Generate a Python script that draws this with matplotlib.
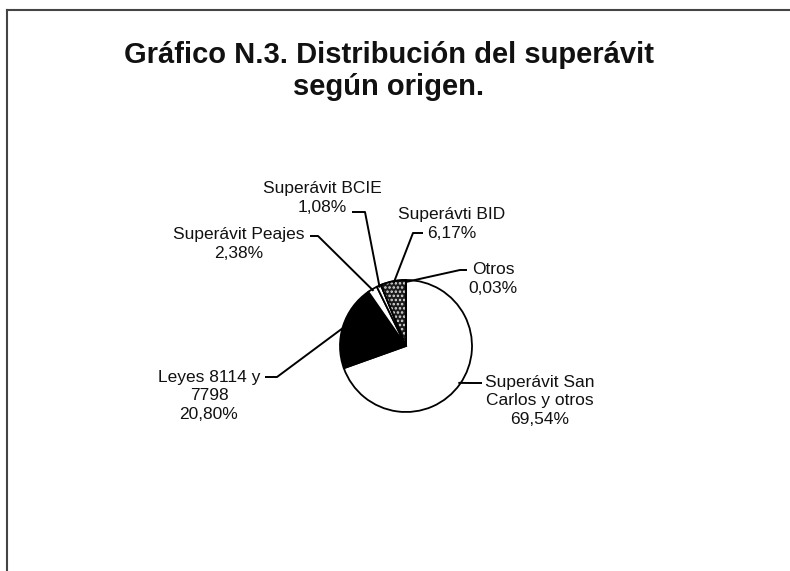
import numpy as np
import matplotlib
matplotlib.use("Agg")
import matplotlib.pyplot as plt
from matplotlib.patches import Wedge
from matplotlib.lines import Line2D

# ---- data ----
categories = ["Superávit San Carlos y otros", "Leyes 8114 y 7798", "Superávit Peajes",
              "Superávit BCIE", "Superávti BID", "Otros"]
values = [69.54, 20.80, 2.38, 1.08, 6.17, 0.03]
label_texts = ["Superávit San\nCarlos y otros\n69,54%",
               "Leyes 8114 y\n7798\n20,80%",
               "Superávit Peajes\n2,38%",
               "Superávit BCIE\n1,08%",
               "Superávti BID\n6,17%",
               "Otros\n0,03%"]
title_lines = ["Gráfico N.3. Distribución del superávit", "según origen."]

W, H = 790, 571
fig = plt.figure(figsize=(W / 100, H / 100), dpi=100)
ax = fig.add_axes([0, 0, 1, 1])

def Y(y):  # pixel-from-top -> data
    return H - y

colors = ["white", "black", "white", "white", "#1a1a1a", "white"]
cx, cy, r = 406, Y(346), 66
wedges, _ = ax.pie(values, colors=colors, startangle=90, counterclock=False,
                   center=(cx, cy), radius=r,
                   wedgeprops=dict(edgecolor="black", linewidth=1.3))

# speckle texture on BID wedge
w = wedges[4]
plt.rcParams['hatch.linewidth'] = 1.2
ov = Wedge((cx, cy), r, w.theta1, w.theta2, facecolor="none", edgecolor="#dddddd",
           hatch="....", linewidth=0)
ax.add_patch(ov)
ax.add_patch(Wedge((cx, cy), r, w.theta1, w.theta2, facecolor="none",
                   edgecolor="black", linewidth=1.3))

# label layout: text center (x, y from top), leader path points (anchor on wedge appended)
layout = [
    ((540, 401), [(482, 383), (471, 383)]),
    ((209, 396), [(265, 377), (277, 377)]),
    ((239, 244), [(310, 236), (318, 236)]),
    ((322, 198), [(352, 212), (365, 212)]),
    ((452, 224), [(423, 233), (413, 233)]),
    ((493, 279), [(467, 270), (460, 270)]),
]

fam = ["Liberation Sans", "DejaVu Sans"]
for wdg, txt, (pos, path) in zip(wedges, label_texts, layout):
    ax.text(pos[0], Y(pos[1]), txt, ha="center", va="center", fontsize=12.5,
            family=fam, linespacing=1.3, color="#111111")
    mid = np.deg2rad((wdg.theta1 + wdg.theta2) / 2)
    ax_pt = (cx + 0.97 * r * np.cos(mid), cy + 0.97 * r * np.sin(mid))
    xs = [p[0] for p in path] + [ax_pt[0]]
    ys = [Y(p[1]) for p in path] + [ax_pt[1]]
    ax.plot(xs, ys, color="black", linewidth=1.4, solid_capstyle="butt")

# title
ax.text(389, Y(63), title_lines[0], ha="center", va="baseline", fontsize=21,
        fontweight="bold", family=fam, color="#111111")
ax.text(389, Y(95), title_lines[1], ha="center", va="baseline", fontsize=21,
        fontweight="bold", family=fam, color="#111111")

ax.set_xlim(0, W)
ax.set_ylim(0, H)
ax.set_aspect("auto")
ax.axis("off")

# frame lines (top and left)
fig.add_artist(Line2D([7 / W, 1], [1 - 10 / H, 1 - 10 / H], color="#444444", linewidth=1.5))
fig.add_artist(Line2D([7 / W, 7 / W], [0, 1 - 10 / H], color="#444444", linewidth=1.5))

fig.savefig("out.png", dpi=100, facecolor="white")
